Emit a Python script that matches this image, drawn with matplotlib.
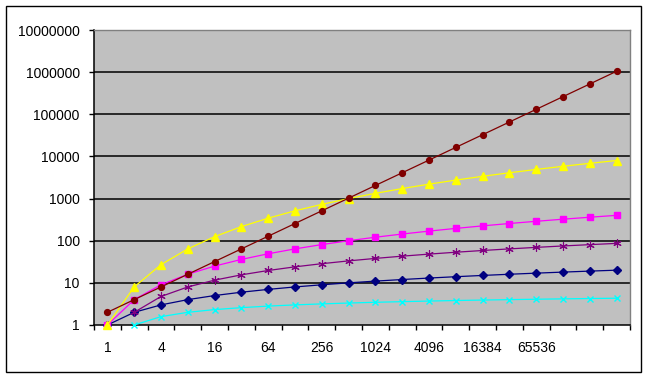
import matplotlib
matplotlib.use("Agg")
import matplotlib.pyplot as plt
import numpy as np
from matplotlib.patches import Rectangle

plt.rcParams['font.family'] = ['Liberation Sans', 'DejaVu Sans']

# categories (n = 1, 2, 4, ... 2^19)
cats = [1, 2, 4, 8, 16, 32, 64, 128, 256, 512, 1024, 2048, 4096, 8192,
        16384, 32768, 65536, 131072, 262144, 524288]
xlabels = ['1', '', '4', '', '16', '', '64', '', '256', '', '1024', '',
           '4096', '', '16384', '', '65536', '', '', '']

# series values (nan = not drawn on log axis)
navy = [1, 2, 3, 4, 5, 6, 7, 8, 9, 10, 11, 12, 13, 14, 15, 16, 17, 18, 19, 20]
magenta = [1, 4, 9, 16, 25, 36, 49, 64, 81, 100, 121, 144, 169, 196, 225,
           256, 289, 324, 361, 400]
yellow = [1, 8, 27, 64, 125, 216, 343, 512, 729, 1000, 1331, 1728, 2197,
          2744, 3375, 4096, 4913, 5832, 6859, 8000]
cyan = [np.nan, 1, 1.58, 2, 2.32, 2.58, 2.81, 3, 3.17, 3.32, 3.46, 3.58,
        3.70, 3.81, 3.91, 4, 4.09, 4.17, 4.25, 4.32]
purple = [np.nan, 2, 4.75, 8, 11.6, 15.5, 19.65, 24, 28.5, 33.2, 38.05, 43.0,
          48.1, 53.3, 58.6, 64, 69.5, 75.1, 80.7, 86.4]
darkred = [2, 4, 8, 16, 32, 64, 128, 256, 512, 1024, 2048, 4096, 8192, 16384,
           32768, 65536, 131072, 262144, 524288, 1048576]

W, H = 647, 378
fig = plt.figure(figsize=(W / 100, H / 100), dpi=100)
fig.patch.set_facecolor('white')
# chart area border
fig.patches.append(Rectangle((6 / W, 1 - 372 / H), 635 / W, 366 / H,
                             transform=fig.transFigure, fill=False,
                             edgecolor='black', linewidth=1.0))

ax = fig.add_axes([94 / W, 1 - 325 / H, (630 - 94) / W, (325 - 30) / H])
ax.set_facecolor('#C0C0C0')

x = np.arange(len(cats))
lw = 0.9
kw = dict(lw=lw, clip_on=False, zorder=3)
ax.plot(x, navy, color='#000080', marker='D', ms=4.2, **kw)
ax.plot(x, magenta, color='#FF00FF', marker='s', ms=5, **kw)
ax.plot(x, yellow, color='#FFFF00', marker='^', ms=5.5, **kw)
ax.plot(x, cyan, color='#00FFFF', marker='x', ms=5, mew=1, **kw)
ax.plot(x, purple, color='#800080', marker=(6, 2, 0), ms=6, mew=0.8, **kw)
ax.plot(x, darkred, color='#800000', marker='o', ms=4.2, **kw)

ax.set_yscale('log')
ax.set_ylim(1, 1e7)
ax.set_xlim(-0.5, len(cats) - 0.5)
yt = [1, 10, 100, 1000, 10000, 100000, 1000000, 10000000]
ax.set_yticks(yt)
ax.set_yticklabels([str(v) for v in yt])
ax.yaxis.set_minor_locator(matplotlib.ticker.NullLocator())
for v in yt[1:]:
    ax.axhline(v, color='black', lw=1.1, zorder=1)

ax.set_xticks(x)
ax.set_xticklabels(xlabels)
ax.set_xticks(np.arange(-0.5, len(cats)), minor=True)
ax.tick_params(axis='x', which='major', length=0, pad=11.5, labelsize=10)
ax.tick_params(axis='x', which='minor', length=3.8, width=1, direction='out')
ax.tick_params(axis='y', which='major', length=3.8, width=1, direction='out',
               pad=6.5, labelsize=10)

for s in ['top', 'right']:
    ax.spines[s].set_color('#808080')
    ax.spines[s].set_linewidth(1)
for s in ['left', 'bottom']:
    ax.spines[s].set_color('black')
    ax.spines[s].set_linewidth(1.1)

fig.savefig('out.png', dpi=100)
